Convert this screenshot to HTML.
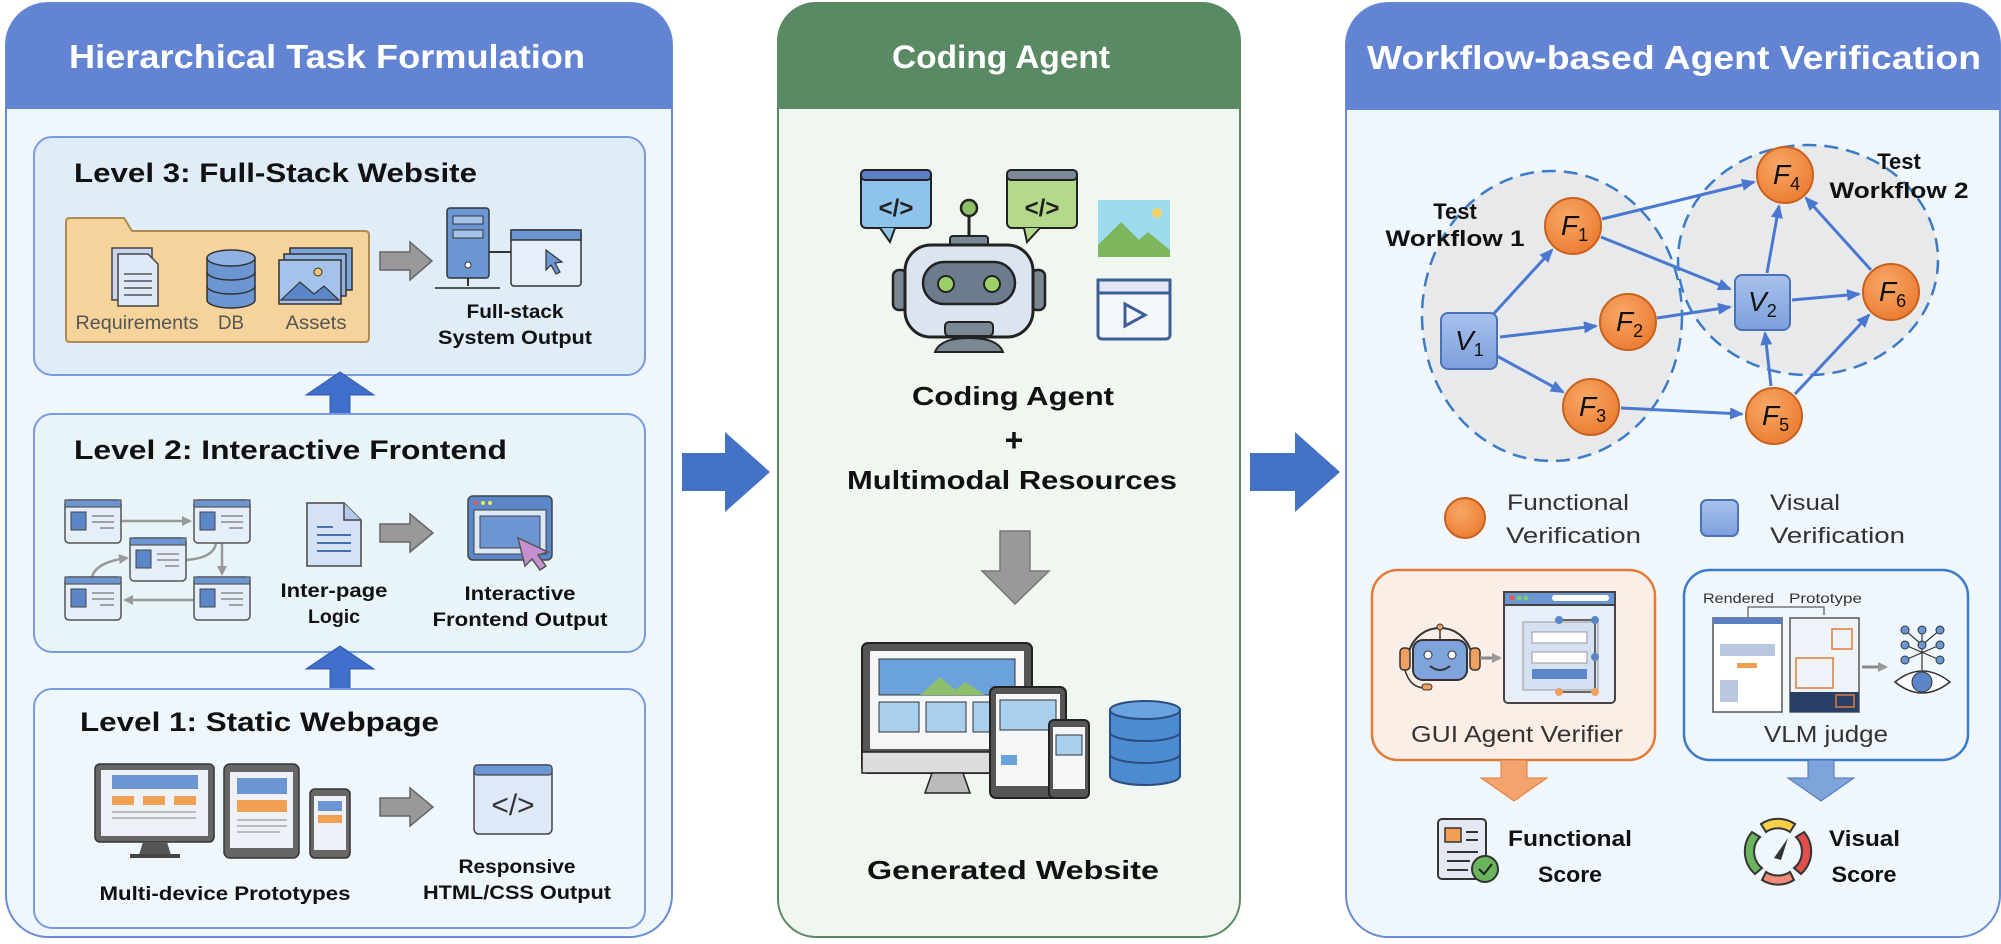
<!DOCTYPE html>
<html><head><meta charset="utf-8"><style>
html,body{margin:0;padding:0;background:#fff;}
svg{display:block;}
text{font-family:"Liberation Sans",sans-serif;}
.b{font-weight:bold;}
</style></head><body>
<svg width="2001" height="944" viewBox="0 0 2001 944" xmlns="http://www.w3.org/2000/svg">
<defs>
<marker id="ah" markerWidth="14" markerHeight="12" refX="12" refY="6" orient="auto" markerUnits="userSpaceOnUse"><path d="M0,0 L14,6 L0,12 z" fill="#4a78d0"/></marker>
<marker id="ga" markerWidth="10" markerHeight="10" refX="8" refY="5" orient="auto" markerUnits="userSpaceOnUse"><path d="M0,0 L10,5 L0,10 z" fill="#999"/></marker>
<radialGradient id="og" cx="40%" cy="35%" r="70%"><stop offset="0" stop-color="#f8a868"/><stop offset="1" stop-color="#ea7b30"/></radialGradient>
<linearGradient id="bg" x1="0" y1="0" x2="0" y2="1"><stop offset="0" stop-color="#a9c2ec"/><stop offset="1" stop-color="#7c9fdc"/></linearGradient>
</defs>

<!-- LEFT PANEL -->
<rect x="6" y="3" width="666" height="934" rx="42" fill="#f0f7fc" stroke="#6a8cd6" stroke-width="2"/>
<path d="M6,109 V45 A42,42 0 0 1 48,3 H630 A42,42 0 0 1 672,45 V109 Z" fill="#6384d2"/>
<text x="327" y="68" class="b" font-size="33" fill="#fff" text-anchor="middle" textLength="516" lengthAdjust="spacingAndGlyphs">Hierarchical Task Formulation</text>

<!-- Level 3 -->
<rect x="34" y="137" width="611" height="238" rx="18" fill="#e0edf9" stroke="#7b9be0" stroke-width="2"/>
<text x="74" y="182" class="b" font-size="27" fill="#111" textLength="403" lengthAdjust="spacingAndGlyphs">Level 3: Full-Stack Website</text>
<path d="M66,222 Q66,218 70,218 H124 L132,231 H365 Q369,231 369,235 V338 Q369,342 365,342 H70 Q66,342 66,338 Z" fill="#f6d39a" stroke="#b08a50" stroke-width="2"/>
<rect x="112" y="248" width="40" height="52" fill="#c9d6ec" stroke="#444" stroke-width="1.5"/>
<path d="M118,254 H148 L158,264 V306 H118 Z" fill="#dfe8f6" stroke="#444" stroke-width="1.5"/>
<g stroke="#555" stroke-width="1.5"><line x1="124" y1="274" x2="152" y2="274"/><line x1="124" y1="281" x2="152" y2="281"/><line x1="124" y1="288" x2="152" y2="288"/><line x1="124" y1="295" x2="152" y2="295"/></g>
<g fill="#6b96d2" stroke="#333" stroke-width="1.5"><path d="M207,258 V300 A24,8 0 0 0 255,300 V258"/><ellipse cx="231" cy="258" rx="24" ry="8" fill="#8fb2e2"/><path d="M207,272 A24,8 0 0 0 255,272 M207,286 A24,8 0 0 0 255,286" fill="none"/></g>
<rect x="290" y="248" width="62" height="42" fill="#7ea4db" stroke="#333" stroke-width="1.5"/>
<rect x="284" y="254" width="62" height="42" fill="#8fb2e2" stroke="#333" stroke-width="1.5"/>
<rect x="279" y="260" width="62" height="44" fill="#a4c2ea" stroke="#333" stroke-width="1.5"/>
<path d="M281,300 L300,282 L314,294 L324,286 L339,300 Z" fill="#5b86c8" stroke="#333" stroke-width="1.2"/>
<circle cx="318" cy="272" r="4" fill="#f3c56a" stroke="#333"/>
<text x="137" y="329" font-size="19" fill="#555" text-anchor="middle" textLength="123" lengthAdjust="spacingAndGlyphs">Requirements</text>
<text x="231" y="329" font-size="19" fill="#555" text-anchor="middle" textLength="26" lengthAdjust="spacingAndGlyphs">DB</text>
<text x="316" y="329" font-size="19" fill="#555" text-anchor="middle" textLength="61" lengthAdjust="spacingAndGlyphs">Assets</text>
<path d="M380,252 H410 V242 L432,261 L410,280 V270 H380 Z" fill="#999" stroke="#666" stroke-width="1.5"/>
<rect x="447" y="208" width="42" height="70" rx="3" fill="#6b96d2" stroke="#333" stroke-width="1.5"/>
<rect x="453" y="216" width="30" height="8" fill="#a4c2ea" stroke="#333"/><rect x="453" y="230" width="30" height="8" fill="#a4c2ea" stroke="#333"/>
<circle cx="468" cy="265" r="3" fill="#fff" stroke="#333"/>
<line x1="468" y1="278" x2="468" y2="286" stroke="#333" stroke-width="2"/><line x1="435" y1="288" x2="500" y2="288" stroke="#555" stroke-width="2"/>
<line x1="489" y1="252" x2="511" y2="252" stroke="#333" stroke-width="2"/>
<rect x="511" y="230" width="70" height="56" rx="3" fill="#e6eef9" stroke="#333" stroke-width="1.5"/>
<rect x="511" y="230" width="70" height="10" fill="#6b96d2" stroke="#333" stroke-width="1.5"/>
<path d="M546,250 L562,262 L555,263 L560,272 L556,274 L551,265 L546,270 Z" fill="#6b96d2" stroke="#333" stroke-width="1.2"/>
<text x="515" y="318" class="b" font-size="19" fill="#111" text-anchor="middle" textLength="97" lengthAdjust="spacingAndGlyphs">Full-stack</text>
<text x="515" y="344" class="b" font-size="19" fill="#111" text-anchor="middle" textLength="154" lengthAdjust="spacingAndGlyphs">System Output</text>

<path d="M330,414 V395 H306 L340,372 L374,395 H350 V414 Z" fill="#3f6fcb" stroke="#2f58a8" stroke-width="1"/>

<!-- Level 2 -->
<rect x="34" y="414" width="611" height="238" rx="18" fill="#e8f4f8" stroke="#7b9be0" stroke-width="2"/>
<text x="74" y="459" class="b" font-size="27" fill="#111" textLength="433" lengthAdjust="spacingAndGlyphs">Level 2: Interactive Frontend</text>
<g stroke="#999" stroke-width="2.5" fill="none">
<line x1="121" y1="521" x2="190" y2="521" marker-end="url(#ga)"/>
<line x1="222" y1="543" x2="222" y2="574" marker-end="url(#ga)"/>
<path d="M216,543 Q214,558 186,560"/>
<line x1="194" y1="600" x2="125" y2="600" marker-end="url(#ga)"/>
<path d="M92,577 Q96,562 127,558" marker-end="url(#ga)"/>
</g>
<g id="mp">
<rect x="65" y="500" width="56" height="43" rx="4" fill="#e6eef9" stroke="#555" stroke-width="1.5"/>
<rect x="65" y="500" width="56" height="7" fill="#6b96d2" stroke="#555" stroke-width="1.2"/>
<rect x="71" y="512" width="15" height="18" fill="#5b86c8" stroke="#444"/>
<g stroke="#888" stroke-width="1.5"><line x1="92" y1="516" x2="114" y2="516"/><line x1="92" y1="522" x2="114" y2="522"/><line x1="100" y1="528" x2="114" y2="528"/></g>
</g>
<use href="#mp" x="129" y="0"/><use href="#mp" x="65" y="38"/><use href="#mp" x="0" y="77"/><use href="#mp" x="129" y="77"/>
<path d="M307,503 H344 L361,520 V566 H307 Z" fill="#d5e2f5" stroke="#444" stroke-width="1.5"/>
<path d="M344,503 V520 H361" fill="#b4c8ea" stroke="#444" stroke-width="1.5"/>
<g stroke="#4a6fb0" stroke-width="2"><line x1="317" y1="527" x2="333" y2="527"/><line x1="317" y1="535" x2="351" y2="535"/><line x1="317" y1="543" x2="351" y2="543"/><line x1="317" y1="551" x2="351" y2="551"/></g>
<text x="334" y="597" class="b" font-size="19" fill="#111" text-anchor="middle" textLength="107" lengthAdjust="spacingAndGlyphs">Inter-page</text>
<text x="334" y="623" class="b" font-size="19" fill="#111" text-anchor="middle" textLength="52" lengthAdjust="spacingAndGlyphs">Logic</text>
<path d="M380,524 H410 V514 L433,533 L410,552 V542 H380 Z" fill="#999" stroke="#666" stroke-width="1.5"/>
<rect x="468" y="496" width="84" height="64" rx="5" fill="#5b86c8" stroke="#444" stroke-width="1.5"/>
<circle cx="476" cy="503" r="2" fill="#e55"/><circle cx="483" cy="503" r="2" fill="#ee5"/><circle cx="490" cy="503" r="2" fill="#ee5"/>
<rect x="474" y="510" width="72" height="44" fill="#dde8f6" stroke="#444"/>
<rect x="480" y="516" width="60" height="32" fill="#6b96d2" stroke="#444"/>
<path d="M518,538 L548,552 L538,555 L546,566 L540,570 L532,559 L525,566 Z" fill="#c68fd0" stroke="#555" stroke-width="1.5"/>
<text x="520" y="600" class="b" font-size="19" fill="#111" text-anchor="middle" textLength="111" lengthAdjust="spacingAndGlyphs">Interactive</text>
<text x="520" y="626" class="b" font-size="19" fill="#111" text-anchor="middle" textLength="175" lengthAdjust="spacingAndGlyphs">Frontend Output</text>

<path d="M330,689 V669 H306 L340,646 L374,669 H350 V689 Z" fill="#3f6fcb" stroke="#2f58a8" stroke-width="1"/>

<!-- Level 1 -->
<rect x="34" y="689" width="611" height="239" rx="18" fill="#f0f7fc" stroke="#7b9be0" stroke-width="2"/>
<text x="80" y="731" class="b" font-size="27" fill="#111" textLength="359" lengthAdjust="spacingAndGlyphs">Level 1: Static Webpage</text>
<rect x="95" y="764" width="119" height="78" rx="5" fill="#666" stroke="#333" stroke-width="1.5"/>
<rect x="101" y="770" width="107" height="66" fill="#eef2f8"/>
<rect x="112" y="775" width="86" height="14" fill="#6b96d2"/>
<rect x="112" y="796" width="22" height="9" fill="#f0a050"/><rect x="143" y="796" width="22" height="9" fill="#f0a050"/><rect x="174" y="796" width="22" height="9" fill="#f0a050"/>
<g stroke="#aaa" stroke-width="1.5"><line x1="112" y1="812" x2="196" y2="812"/><line x1="112" y1="818" x2="196" y2="818"/></g>
<path d="M143,842 L139,855 H171 L167,842 Z" fill="#555"/><rect x="130" y="854" width="50" height="4" fill="#444"/>
<rect x="224" y="764" width="75" height="94" rx="6" fill="#666" stroke="#333" stroke-width="1.5"/>
<rect x="230" y="772" width="63" height="76" fill="#eef2f8"/>
<rect x="237" y="778" width="50" height="16" fill="#6b96d2"/><rect x="237" y="800" width="50" height="12" fill="#f0a050"/>
<g stroke="#aaa" stroke-width="1.5"><line x1="237" y1="820" x2="287" y2="820"/><line x1="237" y1="826" x2="287" y2="826"/><line x1="237" y1="832" x2="280" y2="832"/></g>
<rect x="310" y="789" width="40" height="69" rx="5" fill="#666" stroke="#333" stroke-width="1.5"/>
<rect x="314" y="796" width="32" height="54" fill="#eef2f8"/>
<rect x="318" y="801" width="24" height="10" fill="#6b96d2"/><rect x="318" y="815" width="24" height="8" fill="#f0a050"/>
<text x="225" y="900" class="b" font-size="19" fill="#111" text-anchor="middle" textLength="251" lengthAdjust="spacingAndGlyphs">Multi-device Prototypes</text>
<path d="M380,798 H410 V788 L433,807 L410,826 V816 H380 Z" fill="#999" stroke="#666" stroke-width="1.5"/>
<rect x="474" y="765" width="78" height="69" rx="5" fill="#dfe8f6" stroke="#444" stroke-width="1.5"/>
<rect x="474" y="765" width="78" height="10" rx="3" fill="#6b96d2" stroke="#444" stroke-width="1.2"/>
<text x="513" y="815" font-size="30" fill="#333" text-anchor="middle">&lt;/&gt;</text>
<text x="517" y="873" class="b" font-size="19" fill="#111" text-anchor="middle" textLength="117" lengthAdjust="spacingAndGlyphs">Responsive</text>
<text x="517" y="899" class="b" font-size="19" fill="#111" text-anchor="middle" textLength="188" lengthAdjust="spacingAndGlyphs">HTML/CSS Output</text>

<path d="M682,453 H725 V432 L770,472 L725,512 V491 H682 Z" fill="#4472c4"/>
<path d="M1250,453 H1295 V432 L1340,472 L1295,512 V491 H1250 Z" fill="#4472c4"/>

<!-- MIDDLE PANEL -->
<rect x="778" y="3" width="462" height="934" rx="38" fill="#f0f7f0" stroke="#5a8a62" stroke-width="2"/>
<path d="M778,109 V41 A38,38 0 0 1 816,3 H1202 A38,38 0 0 1 1240,41 V109 Z" fill="#5a8a63"/>
<text x="1001" y="68" class="b" font-size="32" fill="#fff" text-anchor="middle" textLength="218" lengthAdjust="spacingAndGlyphs">Coding Agent</text>
<rect x="861" y="170" width="70" height="58" rx="5" fill="#8ec3ea" stroke="#222" stroke-width="2"/>
<rect x="861" y="170" width="70" height="10" rx="4" fill="#5b7ec4" stroke="#222" stroke-width="2"/>
<path d="M880,228 L890,242 L895,228" fill="#8ec3ea" stroke="#222" stroke-width="2"/>
<text x="896" y="216" class="b" font-size="24" fill="#222" text-anchor="middle">&lt;/&gt;</text>
<rect x="1007" y="170" width="70" height="58" rx="5" fill="#b4d98a" stroke="#222" stroke-width="2"/>
<rect x="1007" y="170" width="70" height="10" rx="4" fill="#7a8a96" stroke="#222" stroke-width="2"/>
<path d="M1024,228 L1027,242 L1040,228" fill="#b4d98a" stroke="#222" stroke-width="2"/>
<text x="1042" y="216" class="b" font-size="24" fill="#222" text-anchor="middle">&lt;/&gt;</text>
<line x1="969" y1="215" x2="969" y2="238" stroke="#222" stroke-width="3"/>
<circle cx="969" cy="208" r="8" fill="#8cc06a" stroke="#222" stroke-width="2.5"/>
<rect x="950" y="236" width="38" height="10" rx="3" fill="#7a8894" stroke="#222" stroke-width="2"/>
<rect x="893" y="270" width="14" height="40" rx="6" fill="#7a8894" stroke="#222" stroke-width="2.5"/>
<rect x="1031" y="270" width="14" height="40" rx="6" fill="#7a8894" stroke="#222" stroke-width="2.5"/>
<rect x="905" y="245" width="128" height="92" rx="26" fill="#dce4f2" stroke="#222" stroke-width="3"/>
<rect x="923" y="262" width="92" height="42" rx="21" fill="#6c7c8c" stroke="#222" stroke-width="2.5"/>
<circle cx="946" cy="284" r="8" fill="#9bd068" stroke="#222" stroke-width="2"/>
<circle cx="992" cy="284" r="8" fill="#9bd068" stroke="#222" stroke-width="2"/>
<rect x="945" y="322" width="48" height="14" rx="4" fill="#7a8894" stroke="#222" stroke-width="2"/>
<path d="M935,352 Q940,338 969,338 Q998,338 1003,352 Z" fill="#7a8894" stroke="#222" stroke-width="2"/>
<rect x="1098" y="200" width="72" height="57" fill="#9ddcef"/>
<path d="M1098,245 L1121,222 L1139,240 L1148,232 L1170,250 V257 H1098 Z" fill="#7db65c"/>
<circle cx="1157" cy="213" r="5" fill="#f3d26a"/>
<rect x="1098" y="280" width="72" height="59" rx="4" fill="#f3f7fb" stroke="#3d5f95" stroke-width="3"/>
<rect x="1098" y="280" width="72" height="13" fill="#dfe8f4" stroke="#3d5f95" stroke-width="3"/>
<path d="M1125,304 V326 L1145,315 Z" fill="none" stroke="#3d5f95" stroke-width="3"/>
<text x="1013" y="405" class="b" font-size="26" fill="#111" text-anchor="middle" textLength="202" lengthAdjust="spacingAndGlyphs">Coding Agent</text>
<text x="1014" y="451" class="b" font-size="32" fill="#111" text-anchor="middle">+</text>
<text x="1012" y="489" class="b" font-size="26" fill="#111" text-anchor="middle" textLength="330" lengthAdjust="spacingAndGlyphs">Multimodal Resources</text>
<path d="M1000,531 H1030 V571 H1049 L1015,604 L982,571 H1000 Z" fill="#999" stroke="#777" stroke-width="1.5"/>
<rect x="862" y="643" width="170" height="130" rx="6" fill="#555" stroke="#222" stroke-width="2"/>
<rect x="870" y="651" width="154" height="98" fill="#f4f6f8"/>
<rect x="879" y="659" width="136" height="36" fill="#6ba1dc" stroke="#333"/>
<path d="M920,695 L940,677 L955,690 L965,682 L985,695 Z" fill="#8cc06a"/>
<g fill="#a8d0ee" stroke="#333"><rect x="879" y="702" width="40" height="30"/><rect x="926" y="702" width="40" height="30"/><rect x="973" y="702" width="40" height="30"/></g>
<rect x="862" y="752" width="170" height="21" fill="#ddd" stroke="#222" stroke-width="1.5"/>
<path d="M932,773 L925,793 H970 L963,773 Z" fill="#bbb" stroke="#222" stroke-width="1.5"/>
<rect x="990" y="687" width="76" height="111" rx="6" fill="#555" stroke="#222" stroke-width="2"/>
<rect x="996" y="694" width="64" height="92" fill="#f4f6f8"/>
<rect x="1000" y="700" width="56" height="30" fill="#a8d0ee" stroke="#333"/>
<rect x="1001" y="755" width="16" height="10" fill="#6ba1dc"/>
<rect x="1049" y="720" width="40" height="78" rx="5" fill="#555" stroke="#222" stroke-width="2"/>
<rect x="1053" y="727" width="32" height="62" fill="#f4f6f8"/>
<rect x="1056" y="735" width="26" height="20" fill="#a8d0ee" stroke="#333"/>
<g fill="#4c8bd0" stroke="#2b4d80" stroke-width="2"><path d="M1110,710 V776 A35,9 0 0 0 1180,776 V710"/><ellipse cx="1145" cy="710" rx="35" ry="9" fill="#6aa3e0"/><path d="M1110,732 A35,9 0 0 0 1180,732 M1110,754 A35,9 0 0 0 1180,754" fill="none"/></g>
<text x="1013" y="879" class="b" font-size="26" fill="#111" text-anchor="middle" textLength="292" lengthAdjust="spacingAndGlyphs">Generated Website</text>

<!-- RIGHT PANEL -->
<rect x="1346" y="3" width="654" height="934" rx="42" fill="#f0f7fc" stroke="#6a8cd6" stroke-width="2"/>
<path d="M1346,110 V45 A42,42 0 0 1 1388,3 H1958 A42,42 0 0 1 2000,45 V110 Z" fill="#6384d2"/>
<text x="1674" y="69" class="b" font-size="33" fill="#fff" text-anchor="middle" textLength="614" lengthAdjust="spacingAndGlyphs">Workflow-based Agent Verification</text>
<ellipse cx="1552" cy="316" rx="130" ry="145" fill="#e6e6e6" fill-opacity="0.85" stroke="#3b7bc8" stroke-width="2.5" stroke-dasharray="14,8"/>
<ellipse cx="1808" cy="260" rx="130" ry="115" fill="#e6e6e6" fill-opacity="0.85" stroke="#3b7bc8" stroke-width="2.5" stroke-dasharray="14,8"/>
<text x="1455" y="219" class="b" font-size="22" fill="#111" text-anchor="middle">Test</text>
<text x="1455" y="246" class="b" font-size="22" fill="#111" text-anchor="middle" textLength="139" lengthAdjust="spacingAndGlyphs">Workflow 1</text>
<text x="1899" y="169" class="b" font-size="22" fill="#111" text-anchor="middle">Test</text>
<text x="1899" y="198" class="b" font-size="22" fill="#111" text-anchor="middle" textLength="139" lengthAdjust="spacingAndGlyphs">Workflow 2</text>
<g stroke="#4a78d0" stroke-width="3" marker-end="url(#ah)">
<line x1="1488" y1="320" x2="1552" y2="250"/>
<line x1="1500" y1="337" x2="1596" y2="326"/>
<line x1="1497" y1="356" x2="1563" y2="392"/>
<line x1="1602" y1="219" x2="1754" y2="182"/>
<line x1="1601" y1="237" x2="1730" y2="289"/>
<line x1="1657" y1="318" x2="1730" y2="307"/>
<line x1="1621" y1="408" x2="1742" y2="414"/>
<line x1="1767" y1="273" x2="1779" y2="206"/>
<line x1="1792" y1="300" x2="1859" y2="294"/>
<line x1="1771" y1="386" x2="1765" y2="333"/>
<line x1="1795" y1="394" x2="1869" y2="315"/>
<line x1="1871" y1="270" x2="1806" y2="198"/>
</g>
<g stroke="#c9601e" stroke-width="2" fill="url(#og)">
<circle cx="1573" cy="226" r="28"/><circle cx="1628" cy="322" r="28"/><circle cx="1591" cy="407" r="28"/>
<circle cx="1785" cy="175" r="28"/><circle cx="1774" cy="416" r="28"/><circle cx="1891" cy="292" r="28"/>
</g>
<g stroke="#4a72b8" stroke-width="2" fill="url(#bg)">
<rect x="1441" y="313" width="56" height="56" rx="7"/><rect x="1735" y="275" width="55" height="55" rx="7"/>
</g>
<g font-family="Liberation Serif,serif" font-style="italic" font-size="28" fill="#111">
<text x="1561" y="235">F<tspan font-size="18" font-style="normal" dy="6">1</tspan></text>
<text x="1616" y="331">F<tspan font-size="18" font-style="normal" dy="6">2</tspan></text>
<text x="1579" y="416">F<tspan font-size="18" font-style="normal" dy="6">3</tspan></text>
<text x="1773" y="184">F<tspan font-size="18" font-style="normal" dy="6">4</tspan></text>
<text x="1762" y="425">F<tspan font-size="18" font-style="normal" dy="6">5</tspan></text>
<text x="1879" y="301">F<tspan font-size="18" font-style="normal" dy="6">6</tspan></text>
<text x="1455" y="350">V<tspan font-size="18" font-style="normal" dy="6">1</tspan></text>
<text x="1748" y="311">V<tspan font-size="18" font-style="normal" dy="6">2</tspan></text>
</g>
<circle cx="1465" cy="518" r="20" fill="url(#og)" stroke="#c9601e" stroke-width="2"/>
<text x="1507" y="510" font-size="22" fill="#333" textLength="122" lengthAdjust="spacingAndGlyphs">Functional</text>
<text x="1506" y="543" font-size="22" fill="#333" textLength="135" lengthAdjust="spacingAndGlyphs">Verification</text>
<rect x="1701" y="500" width="37" height="36" rx="6" fill="url(#bg)" stroke="#4a72b8" stroke-width="2"/>
<text x="1770" y="510" font-size="22" fill="#333" textLength="70" lengthAdjust="spacingAndGlyphs">Visual</text>
<text x="1770" y="543" font-size="22" fill="#333" textLength="135" lengthAdjust="spacingAndGlyphs">Verification</text>
<rect x="1372" y="570" width="283" height="190" rx="26" fill="#fbeee6" stroke="#e07b39" stroke-width="2.5"/>
<path d="M1408,660 A32,32 0 0 1 1472,660" fill="none" stroke="#333" stroke-width="2"/>
<rect x="1400" y="648" width="10" height="22" rx="4" fill="#f0a060" stroke="#333" stroke-width="1.5"/>
<rect x="1470" y="648" width="10" height="22" rx="4" fill="#f0a060" stroke="#333" stroke-width="1.5"/>
<rect x="1413" y="640" width="54" height="40" rx="10" fill="#7ea4db" stroke="#333" stroke-width="2"/>
<circle cx="1428" cy="655" r="4" fill="#fff" stroke="#333"/><circle cx="1452" cy="655" r="4" fill="#fff" stroke="#333"/>
<path d="M1430,666 Q1440,674 1450,666" fill="none" stroke="#333" stroke-width="2"/>
<line x1="1440" y1="640" x2="1440" y2="630" stroke="#333" stroke-width="1.5"/><circle cx="1440" cy="627" r="3" fill="#f0a060" stroke="#333"/>
<path d="M1405,670 Q1410,688 1425,688" fill="none" stroke="#333" stroke-width="1.5"/><rect x="1422" y="684" width="10" height="6" rx="3" fill="#f0a060" stroke="#333"/>
<line x1="1480" y1="658" x2="1500" y2="658" stroke="#888" stroke-width="3" marker-end="url(#ga)"/>
<rect x="1504" y="592" width="111" height="111" rx="4" fill="#e8eef8" stroke="#444" stroke-width="2"/>
<rect x="1504" y="592" width="111" height="13" fill="#6b96d2" stroke="#444" stroke-width="2"/>
<circle cx="1512" cy="598" r="2.5" fill="#e55"/><circle cx="1519" cy="598" r="2.5" fill="#7c7"/><circle cx="1526" cy="598" r="2.5" fill="#7c7"/>
<rect x="1552" y="595" width="57" height="6" rx="3" fill="#fff"/>
<rect x="1523" y="622" width="75" height="68" fill="#d5e0f2" stroke="#999"/>
<rect x="1532" y="632" width="55" height="11" fill="#fff" stroke="#999"/><rect x="1532" y="652" width="55" height="11" fill="#fff" stroke="#999"/>
<rect x="1532" y="669" width="55" height="10" fill="#5b86c8"/>
<g stroke="#666" stroke-width="2"><line x1="1559" y1="620" x2="1595" y2="620"/><line x1="1595" y1="620" x2="1595" y2="692"/><line x1="1559" y1="692" x2="1595" y2="692"/></g>
<circle cx="1559" cy="620" r="4" fill="#5b86c8"/><circle cx="1595" cy="620" r="4" fill="#5b86c8"/><circle cx="1595" cy="657" r="4" fill="#5b86c8"/><circle cx="1559" cy="692" r="4" fill="#f0a060"/><circle cx="1595" cy="692" r="4" fill="#f0a060"/>
<text x="1517" y="742" font-size="23" fill="#333" text-anchor="middle" textLength="212" lengthAdjust="spacingAndGlyphs">GUI Agent Verifier</text>
<rect x="1684" y="570" width="284" height="190" rx="26" fill="#f0f7fc" stroke="#3b7bc8" stroke-width="2.5"/>
<text x="1703" y="603" font-size="14" fill="#333" textLength="71" lengthAdjust="spacingAndGlyphs">Rendered</text>
<text x="1789" y="603" font-size="14" fill="#333" textLength="73" lengthAdjust="spacingAndGlyphs">Prototype</text>
<path d="M1748,617 V607 H1824 V615" fill="none" stroke="#777" stroke-width="1.5"/>
<rect x="1713" y="618" width="69" height="94" fill="#fff" stroke="#555" stroke-width="1.5"/>
<rect x="1713" y="618" width="69" height="6" fill="#5b7ec4"/>
<rect x="1720" y="644" width="55" height="12" fill="#b8c8e0"/><rect x="1737" y="663" width="20" height="5" fill="#f0a050"/>
<rect x="1720" y="680" width="18" height="22" fill="#b8c8e0"/>
<rect x="1790" y="618" width="69" height="94" fill="#eef3fa" stroke="#555" stroke-width="1.5"/>
<rect x="1790" y="692" width="69" height="20" fill="#2a3f66"/>
<rect x="1832" y="629" width="20" height="20" fill="none" stroke="#e07b39" stroke-width="1.5"/>
<rect x="1796" y="658" width="37" height="30" fill="none" stroke="#e07b39" stroke-width="1.5"/>
<rect x="1836" y="695" width="18" height="12" fill="none" stroke="#e07b39" stroke-width="1.5"/>
<line x1="1862" y1="667" x2="1886" y2="667" stroke="#888" stroke-width="3" marker-end="url(#ga)"/>
<g stroke="#333" stroke-width="1.2"><line x1="1905" y1="630" x2="1922" y2="645"/><line x1="1940" y1="630" x2="1922" y2="645"/><line x1="1905" y1="645" x2="1940" y2="660"/><line x1="1940" y1="645" x2="1905" y2="660"/><line x1="1922" y1="630" x2="1922" y2="670"/></g>
<g fill="#6b96d2" stroke="#333"><circle cx="1905" cy="630" r="4"/><circle cx="1922" cy="630" r="4"/><circle cx="1940" cy="630" r="4"/><circle cx="1905" cy="645" r="4"/><circle cx="1922" cy="645" r="4"/><circle cx="1940" cy="645" r="4"/><circle cx="1905" cy="660" r="4"/><circle cx="1940" cy="660" r="4"/></g>
<path d="M1895,682 Q1922,660 1950,682 Q1922,704 1895,682 Z" fill="#fff" stroke="#333" stroke-width="1.5"/>
<circle cx="1922" cy="682" r="10" fill="#5b86c8" stroke="#333"/>
<text x="1826" y="742" font-size="23" fill="#333" text-anchor="middle" textLength="124" lengthAdjust="spacingAndGlyphs">VLM judge</text>
<path d="M1501,760 H1527 V778 H1547 L1514,801 L1481,778 H1501 Z" fill="#f2a36e" stroke="#e07b39" stroke-width="1"/>
<path d="M1808,760 H1834 V778 H1854 L1821,801 L1788,778 H1808 Z" fill="#7ea4db" stroke="#4a72b8" stroke-width="1"/>
<rect x="1438" y="819" width="48" height="60" rx="4" fill="#e3e8f2" stroke="#333" stroke-width="2"/>
<rect x="1445" y="828" width="16" height="14" fill="#f0a050" stroke="#333" stroke-width="1.5"/>
<g stroke="#333" stroke-width="2"><line x1="1466" y1="832" x2="1478" y2="832"/><line x1="1466" y1="840" x2="1478" y2="840"/><line x1="1447" y1="852" x2="1478" y2="852"/><line x1="1447" y1="861" x2="1470" y2="861"/><line x1="1447" y1="870" x2="1468" y2="870"/></g>
<circle cx="1485" cy="869" r="13" fill="#6ab45e" stroke="#333" stroke-width="2"/>
<path d="M1479,869 L1484,874 L1492,864" fill="none" stroke="#222" stroke-width="2"/>
<text x="1508" y="846" class="b" font-size="22" fill="#111" textLength="124" lengthAdjust="spacingAndGlyphs">Functional</text>
<text x="1570" y="882" class="b" font-size="22" fill="#111" text-anchor="middle" textLength="64" lengthAdjust="spacingAndGlyphs">Score</text>
<g stroke="#333" stroke-width="2">
<path d="M1755,874 A30,30 0 0 1 1752,832 L1760,837 A21,21 0 0 0 1762,868 Z" fill="#6ab45e"/>
<path d="M1761,824 A30,30 0 0 1 1795,824 L1790,832 A21,21 0 0 0 1766,832 Z" fill="#f3d048"/>
<path d="M1804,832 A30,30 0 0 1 1801,874 L1794,868 A21,21 0 0 0 1796,837 Z" fill="#e0504a"/>
<path d="M1762,880 A30,30 0 0 0 1794,880 L1790,872 A22,22 0 0 1 1766,872 Z" fill="#ee8a78"/>
</g>
<path d="M1774,858 L1788,838 L1781,860 Z" fill="#333"/>
<text x="1829" y="846" class="b" font-size="22" fill="#111" textLength="71" lengthAdjust="spacingAndGlyphs">Visual</text>
<text x="1864" y="882" class="b" font-size="22" fill="#111" text-anchor="middle" textLength="65" lengthAdjust="spacingAndGlyphs">Score</text>
</svg>
</body></html>
